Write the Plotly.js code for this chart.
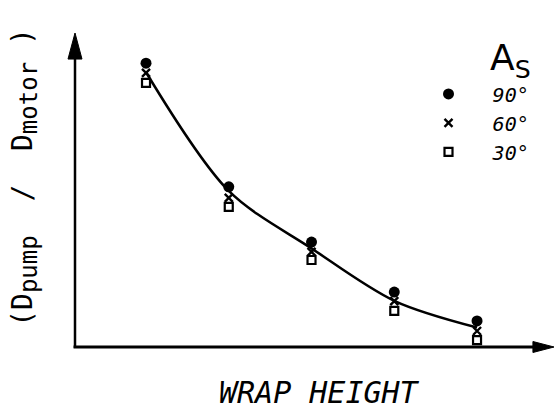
<!DOCTYPE html>
<html>
<head>
<meta charset="utf-8">
<script src="https://cdn.plot.ly/plotly-3.0.1.min.js"></script>
<style>html,body{margin:0;padding:0;background:#fff;}#chart{width:554px;height:409px;}</style>
</head>
<body>
<div id="chart"></div>
<script>
// Data (arbitrary units)
var wrapHeight = [1, 2, 3, 4, 5];
var as90 = [9.04, 5.10, 3.34, 1.75, 0.83];
var as60 = [8.73, 4.75, 3.03, 1.46, 0.51];
var as30 = [8.41, 4.46, 2.77, 1.15, 0.22];
var fitCurve = [8.75, 4.97, 3.14, 1.47, 0.62];
var seriesNames = ["90°", "60°", "30°"];

var FONT = "DejaVu Sans Mono";

var traces = [
  {x: wrapHeight, y: fitCurve, mode: "lines", line: {color: "#000", width: 2.5, shape: "spline", smoothing: 0.9}, showlegend: false, hoverinfo: "skip"},
  {x: wrapHeight, y: as30, mode: "markers", name: "  " + seriesNames[2], marker: {symbol: "square-open", size: 8, color: "#000", line: {width: 2.2, color: "#000"}}},
  {x: wrapHeight, y: as60, mode: "markers", name: "  " + seriesNames[1], marker: {symbol: "x-thin-open", size: 8, color: "#000", line: {width: 2.4, color: "#000"}}},
  {x: wrapHeight, y: as90, mode: "markers", name: "  " + seriesNames[0], marker: {symbol: "circle", size: 11, color: "#000"}}
];

var layout = {
  width: 554, height: 409,
  margin: {l: 75, r: 0, t: 33, b: 62},
  paper_bgcolor: "#fff", plot_bgcolor: "#fff",
  showlegend: true,
  legend: {x: 0.738, y: 0.868, xanchor: "left", yanchor: "top", traceorder: "reversed",
           font: {family: FONT, size: 20, color: "#000", style: "italic"}, bgcolor: "rgba(0,0,0,0)", itemwidth: 30},
  xaxis: {range: [0.142, 5.93], showgrid: false, zeroline: false, showticklabels: false, ticks: "", showline: false},
  yaxis: {range: [0, 10], showgrid: false, zeroline: false, showticklabels: false, ticks: "", showline: false},
  shapes: [
    {type: "line", xref: "paper", yref: "paper", x0: 0, y0: -0.003, x1: 0, y1: 0.95, line: {color: "#000", width: 2.5}},
    {type: "line", xref: "paper", yref: "paper", x0: -0.003, y0: 0, x1: 0.96, y1: 0, line: {color: "#000", width: 2.8}},
    {type: "path", xref: "paper", yref: "paper", path: "M0,1 L-0.0146,0.917 L0.0146,0.917 Z", fillcolor: "#000", line: {color: "#000", width: 1}},
    {type: "path", xref: "paper", yref: "paper", path: "M1,0 L0.956,0.0175 L0.956,-0.0175 Z", fillcolor: "#000", line: {color: "#000", width: 1}}
  ],
  annotations: [
    {xref: "paper", yref: "paper", x: 0.51, y: -0.145, text: "WRAP HEIGHT", showarrow: false, xanchor: "center", yanchor: "middle",
     font: {family: FONT, size: 30, color: "#000", style: "italic"}},
    {xref: "paper", yref: "paper", x: -0.105, y: 0.541,
     text: "(D<sub><span style='font-size:24px'>pump</span></sub>  /  D<sub><span style='font-size:24px'>motor</span></sub> )",
     textangle: -90, showarrow: false, xanchor: "center", yanchor: "middle", font: {family: FONT, size: 28, color: "#000"}},
    {xref: "paper", yref: "paper", x: 0.862, y: 0.995, text: "A<sub>S</sub>", showarrow: false, xanchor: "left", yanchor: "top",
     font: {family: "DejaVu Sans", size: 36, color: "#000"}}
  ]
};

Plotly.newPlot("chart", traces, layout, {staticPlot: true, displayModeBar: false});
</script>
</body>
</html>
